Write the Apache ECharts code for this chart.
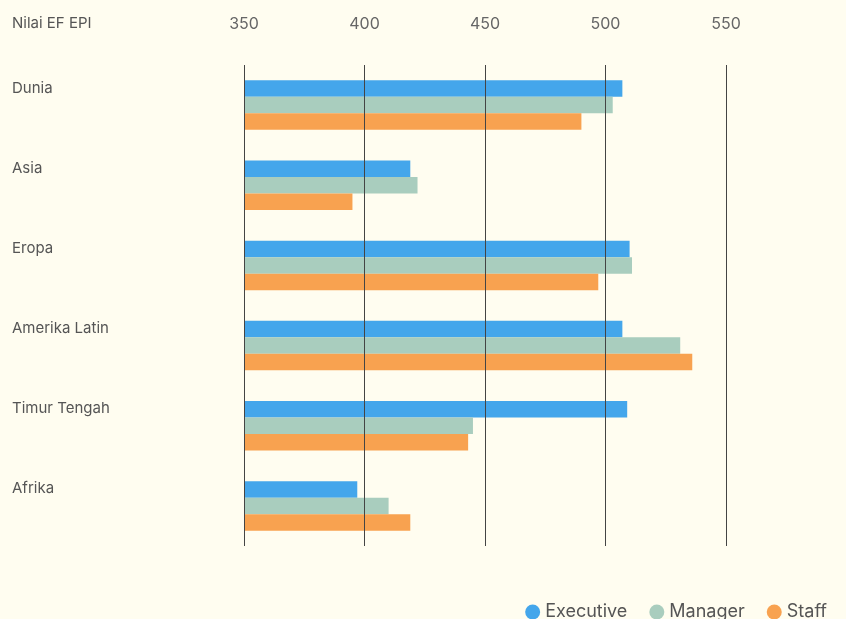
<!DOCTYPE html>
<html>
<head>
<meta charset="utf-8">
<script src="https://cdn.jsdelivr.net/npm/echarts@6/dist/echarts.min.js"></script>
<style>
  html, body { margin: 0; padding: 0; background: #fffdf0; }
  #chart { width: 846px; height: 619px; }
</style>
</head>
<body>
<div id="chart"></div>
<script>
  const regions = ['Dunia', 'Asia', 'Eropa', 'Amerika Latin', 'Timur Tengah', 'Afrika'];
  const executive = [507, 419, 510, 507, 509, 397];
  const manager = [503, 422, 511, 531, 445, 410];
  const staff = [490, 395, 497, 536, 443, 419];
  const ticks = [350, 400, 450, 500, 550];

  const colors = {
    executive: '#3ea3ea',
    manager: '#a6cbbc',
    staff: '#f89f4a',
  };

  const fontFamily = 'Inter, Lato, sans-serif';

  const chart = echarts.init(document.getElementById('chart'));

  const makeSeries = (name, data, color) => ({
    name,
    type: 'bar',
    data,
    barWidth: 16.5,
    barGap: 0,
    itemStyle: { color, opacity: 0.97 },
    emphasis: { disabled: true },
  });

  chart.setOption({
    backgroundColor: '#fffdf0',
    animation: false,
    textStyle: { fontFamily },
    graphic: [
      {
        type: 'text',
        left: 12,
        top: 16,
        style: {
          text: 'Nilai EF EPI',
          fill: '#555',
          fontSize: 15,
          fontFamily,
        },
      },
    ],
    legend: {
      right: 14,
      top: 598,
      icon: 'circle',
      itemWidth: 15,
      itemHeight: 15,
      itemGap: 22,
      textStyle: { color: '#555', fontSize: 18, fontFamily },
      data: ['Executive', 'Manager', 'Staff'],
    },
    grid: {
      left: 244,
      right: 120,
      top: 65,
      bottom: 73,
      containLabel: false,
    },
    xAxis: {
      type: 'value',
      position: 'top',
      min: ticks[0],
      max: ticks[ticks.length - 1],
      interval: 50,
      axisLine: { show: false },
      axisTick: { show: false },
      axisLabel: {
        color: '#666',
        fontSize: 16,
        margin: 33,
        formatter: v => (ticks.includes(v) ? String(v) : ''),
      },
      splitLine: {
        show: true,
        lineStyle: { color: '#444', width: 1 },
      },
      z: 10,
    },
    yAxis: {
      type: 'category',
      inverse: true,
      data: regions,
      axisLine: { show: false },
      axisTick: { show: false },
      axisLabel: {
        color: '#555',
        fontSize: 15,
        align: 'left',
        margin: 232,
        verticalAlign: 'bottom',
        lineHeight: 34,
      },
      splitLine: { show: false },
    },
    series: [
      makeSeries('Executive', executive, colors.executive),
      makeSeries('Manager', manager, colors.manager),
      makeSeries('Staff', staff, colors.staff),
    ],
  });
</script>
</body>
</html>
